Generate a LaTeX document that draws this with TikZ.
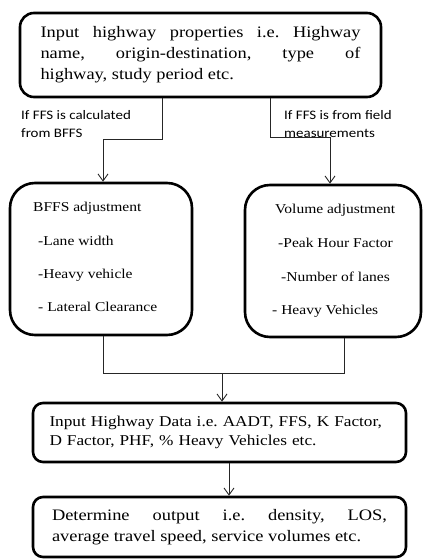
\documentclass[tikz,border=0pt]{standalone}
\usepackage{fontspec}
\setmainfont{Liberation Serif}[FakeStretch=1.15]
\newfontfamily\lblfont{Carlito}[FakeStretch=1.15]
\usetikzlibrary{arrows.meta}
\frenchspacing
\tikzset{
  box/.style={draw=black, line width=2.6pt, inner sep=0pt, fill=none},
  conn/.style={draw=black!85, line width=0.9pt},
  arr/.style={conn, -{Straight Barb[length=7pt,width=10pt,line width=0.9pt]}},
  big/.style={font=\fontsize{16}{21}\selectfont},
  mid/.style={font=\fontsize{15}{19}\selectfont},
  item/.style={anchor=base west, inner sep=0pt, font=\fontsize{13.5}{16}\selectfont},
  lbl/.style={anchor=base west, inner sep=0pt, font=\lblfont\fontsize{13}{16}\selectfont},
}
\begin{document}
\begin{tikzpicture}[x=1pt,y=-1pt]
\useasboundingbox (0,0) rectangle (423,559);
% boxes
\node[box, rounded corners=14pt, minimum width=361pt, minimum height=84pt, big,
      text width=320pt, align=justify] (top) at (200.5,55)
  {\frenchspacing Input highway properties i.e. Highway\linebreak name, origin-destination, type of\linebreak highway, study period etc.};
\node[box, rounded corners=25pt, minimum width=182pt, minimum height=152pt] (bffs) at (101,259) {};
\node[box, rounded corners=25pt, minimum width=176pt, minimum height=152pt] (vol) at (333,261) {};
\node[box, rounded corners=10pt, minimum width=373pt, minimum height=59pt, mid,
      text width=340pt, align=left] (data) at (219.5,432.5)
  {\frenchspacing Input Highway Data i.e. AADT, FFS, K Factor,\\ D Factor, PHF, \% Heavy Vehicles etc.};
\node[box, rounded corners=10pt, minimum width=373pt, minimum height=60pt, big,
      text width=335pt, align=justify] (out) at (219.5,527)
  {\frenchspacing Determine output i.e. density, LOS,\linebreak average travel speed, service volumes etc.};
% box items
\node[item] (b0) at (33,211) {BFFS adjustment};
\node[item] (b1) at (38,245) {-Lane width};
\node[item] (b2) at (38,278) {-Heavy vehicle};
\node[item] (b3) at (38,311) {- Lateral Clearance};
\node[item] (v0) at (275,213) {Volume adjustment};
\node[item] (v1) at (278,247) {-Peak Hour Factor};
\node[item] (v2) at (281,281) {-Number of lanes};
\node[item] (v3) at (272,314) {- Heavy Vehicles};
% labels
\node[lbl] (l1) at (21,119.5) {If FFS is calculated};
\node[lbl] (l2) at (21,137) {from BFFS};
\node[lbl] (r1) at (284,119.5) {If FFS is from field};
\node[lbl] (r2) at (284,137) {measurements};
% connector coordinates
\coordinate (xa) at (162,0);
\coordinate (xb) at (103,0);
\coordinate (ja) at (162,139);
\coordinate (jb) at (103,139);
\coordinate (xc) at (270,0);
\coordinate (xd) at (330,0);
\coordinate (jc) at (270,137);
\coordinate (jd) at (330,137);
\coordinate (xe) at (344,0);
\coordinate (je) at (103,373);
\coordinate (jf) at (344,373);
\coordinate (jm) at (222,373);
\coordinate (xm) at (222,0);
\coordinate (xn) at (229,0);
% connectors
\draw[arr] (top.south -| xa) -- (ja) -- (jb) -- (bffs.north -| xb);
\draw[arr] (top.south -| xc) -- (jc) -- (jd) -- (vol.north -| xd);
\draw[conn] (bffs.south -| xb) -- (je) -- (jf) -- (vol.south -| xe);
\draw[arr] (jm) -- (data.north -| xm);
\draw[arr] (data.south -| xn) -- (out.north -| xn);
\end{tikzpicture}
\end{document}
